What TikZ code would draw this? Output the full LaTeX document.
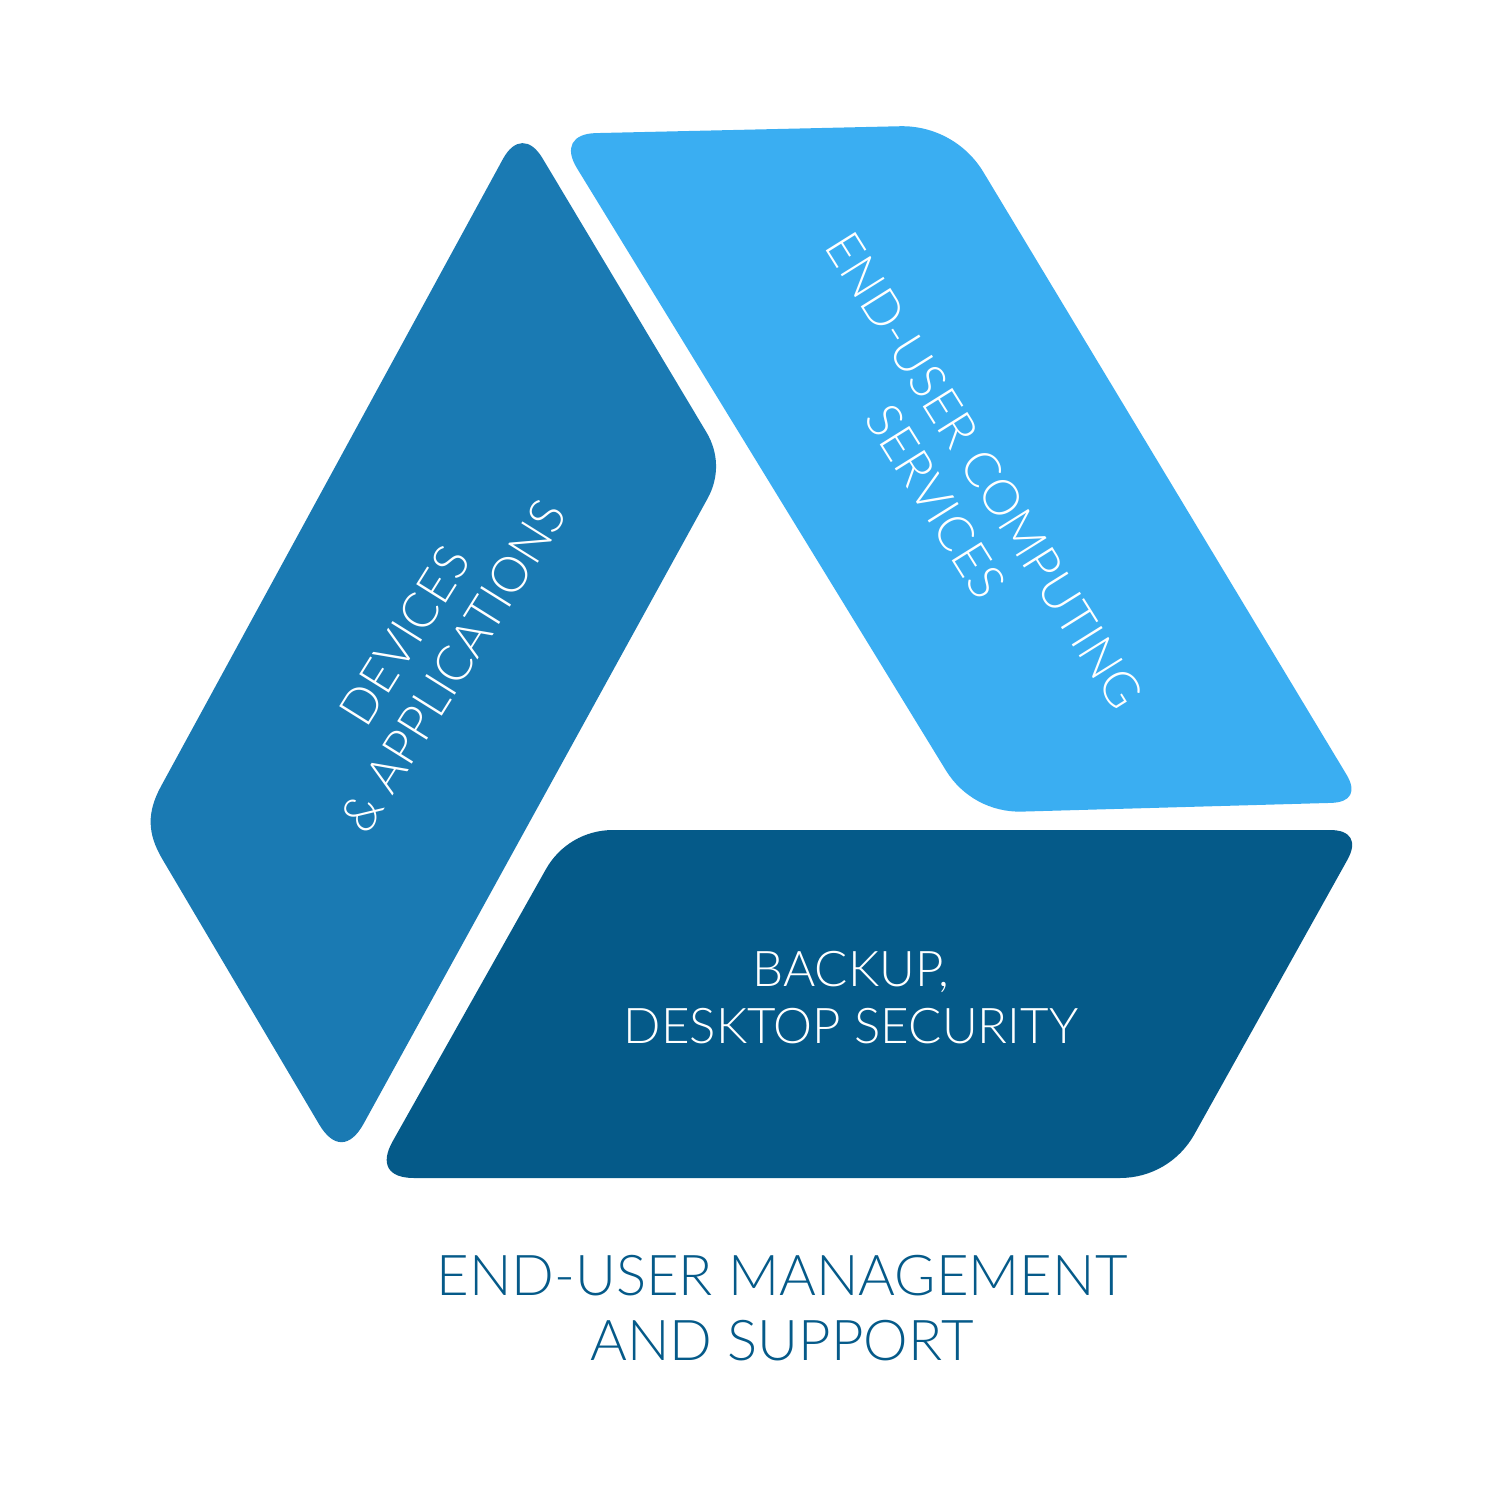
\documentclass[tikz,border=0pt]{standalone}
\usepackage{fontspec}
\setmainfont{Lato Light}
\usetikzlibrary{calc}
\definecolor{midblue}{HTML}{1A7AB3}
\definecolor{lightblue}{HTML}{3AAEF2}
\definecolor{darkblue}{HTML}{055A89}
\newcommand\rc[5]{-- ($(#2)!#4!(#1)$) .. controls ($(#2)!#5!(#1)$) and ($(#2)!#5!(#3)$) .. ($(#2)!#4!(#3)$)}
\tikzset{
  lbl/.style={text=white, align=center, inner sep=0pt, font=\fontsize{14}{16.2}\selectfont},
  ttl/.style={text=darkblue, align=center, inner sep=0pt, font=\fontsize{16}{18.5}\selectfont}
}
\begin{document}
\begin{tikzpicture}[x=0.01cm,y=-0.01cm]
\useasboundingbox (0,0) rectangle (1500,1500);
\fill[white] (0,0) rectangle (1500,1500);
% medium (left) shape
\coordinate (mT) at (522,124);
\coordinate (mR) at (726,465);
\coordinate (mB) at (342,1163);
\coordinate (mL) at (141,823);
\fill[midblue] ($(mT)!0.40cm!(mR)$) \rc{mT}{mR}{mB}{0.38cm}{0.14cm} \rc{mR}{mB}{mL}{0.45cm}{0.17cm} \rc{mB}{mL}{mT}{0.42cm}{0.12cm} \rc{mL}{mT}{mR}{0.40cm}{0.16cm} -- cycle;
% light (right) shape
\coordinate (lTL) at (556,134);
\coordinate (lTR) at (955,125);
\coordinate (lBR) at (1363,802);
\coordinate (lBL) at (972,813);
\fill[lightblue] ($(lTL)!0.40cm!(lTR)$) \rc{lTL}{lTR}{lBR}{0.55cm}{0.21cm} \rc{lTR}{lBR}{lBL}{0.32cm}{0.12cm} \rc{lBR}{lBL}{lTL}{0.50cm}{0.19cm} \rc{lBL}{lTL}{lTR}{0.40cm}{0.16cm} -- cycle;
% dark (bottom) shape
\coordinate (dTL) at (568,830);
\coordinate (dTR) at (1364,830);
\coordinate (dBR) at (1170,1178);
\coordinate (dBL) at (372,1178);
\fill[darkblue] ($(dTL)!0.45cm!(dTR)$) \rc{dTL}{dTR}{dBR}{0.34cm}{0.13cm} \rc{dTR}{dBR}{dBL}{0.50cm}{0.19cm} \rc{dBR}{dBL}{dTL}{0.42cm}{0.16cm} \rc{dBL}{dTL}{dTR}{0.45cm}{0.17cm} -- cycle;
% labels
\node[lbl, rotate=58] (devices) at (429,651) {DEVICES\\\& APPLICATIONS};
\node[lbl, rotate=-58] (euc) at (960,486) {END-USER COMPUTING\\SERVICES};
\node[lbl] (backup) at (851,998) {BACKUP,\\DESKTOP SECURITY};
\node[ttl] (title) at (782,1308) {END-USER MANAGEMENT\\AND SUPPORT};
\end{tikzpicture}
\end{document}
